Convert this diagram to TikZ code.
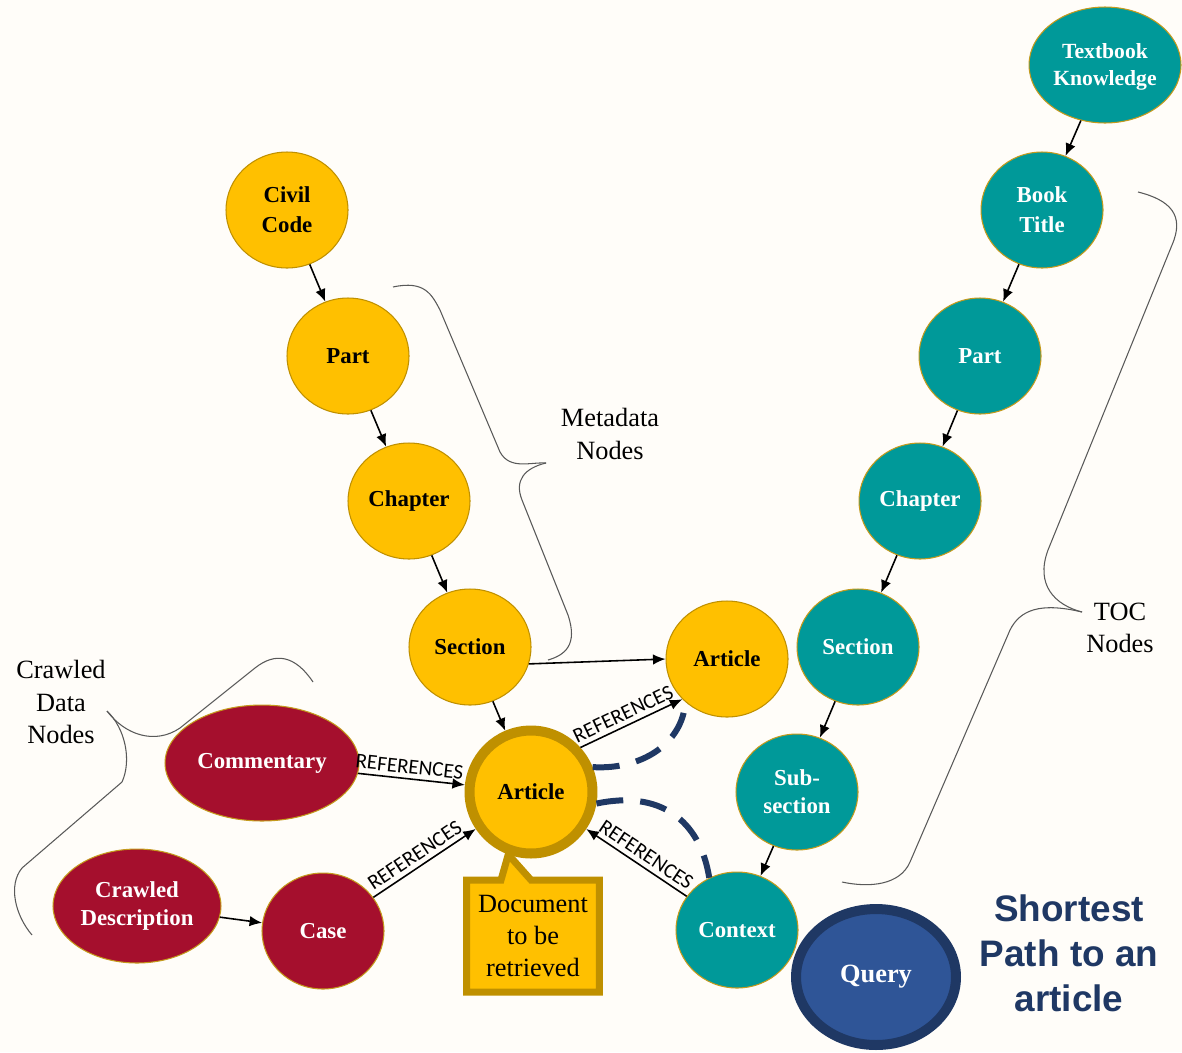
\documentclass[tikz,border=0pt]{standalone}
\usepackage{fontspec}
\setmainfont{Liberation Serif}
\newfontfamily\reffont{Carlito}
\newfontfamily\titlefont{Liberation Sans}
\usetikzlibrary{arrows.meta,shapes.geometric,shapes.callouts}

\definecolor{gold}{HTML}{FFC000}
\definecolor{golddark}{HTML}{BF9000}
\definecolor{tocteal}{HTML}{009999}
\definecolor{crawlred}{HTML}{A50F2D}
\definecolor{qblue}{HTML}{2F5597}
\definecolor{navy}{HTML}{1F3864}
\definecolor{rim}{HTML}{C49A1C}
\definecolor{paper}{HTML}{FFFDF9}

\tikzset{
  meta/.style={ellipse, fill=gold, draw=golddark, line width=0.6pt,
    minimum width=2.44cm, minimum height=2.32cm, inner sep=0pt,
    align=center, font=\bfseries\fontsize{13}{17}\selectfont},
  toc/.style={meta, fill=tocteal, draw=rim, text=white},
  crawl/.style={meta, fill=crawlred, draw=rim, text=white},
  link/.style={-{Latex[length=0.25cm,width=0.21cm]}, line width=0.9pt},
  reflabel/.style={sloped, above, inner sep=2.5pt, pos=0.47,
    font=\reffont\fontsize{12}{12}\selectfont},
  brace/.style={draw=black!65, line width=0.6pt},
  shortpath/.style={draw=navy, line width=0.12cm, dash pattern=on 0.54cm off 0.34cm},
  caption/.style={align=center, font=\fontsize{15}{18.4}\selectfont}
}

\begin{document}
\begin{tikzpicture}[x=0.02cm, y=-0.02cm]
\fill[paper] (0,0) rectangle (1182,1052);
\useasboundingbox (0,0) rectangle (1182,1052);

% metadata chain
\node[meta] (civil) at (287,210) {Civil\\Code};
\node[meta] (part1) at (348,356) {Part};
\node[meta] (chap1) at (409,501) {Chapter};
\node[meta] (sec1) at (470,647) {Section};
\node[meta] (art2) at (727,659) {Article};
\node[meta, line width=0.2cm, minimum width=2.46cm, minimum height=2.46cm] (art1) at (531,792) {Article};

% toc chain
\node[toc, minimum width=3.04cm, font=\bfseries\fontsize{12.3}{15.3}\selectfont] (tbk) at (1105,65) {\strut Textbook\\Knowledge};
\node[toc] (book) at (1042,210) {Book\\Title};
\node[toc] (part2) at (980,356) {Part};
\node[toc] (chap2) at (920,501) {Chapter};
\node[toc] (sec2) at (858,647) {Section};
\node[toc, font=\bfseries\fontsize{13}{16}\selectfont] (sub) at (797,792) {Sub-\\section};
\node[toc] (ctx) at (737,930) {Context};

% crawled data
\node[crawl, minimum width=3.88cm] (comm) at (262,763) {Commentary};
\node[crawl, minimum width=3.36cm, minimum height=2.28cm, font=\bfseries\fontsize{13}{16}\selectfont] (desc) at (137,906) {Crawled\\Description};
\node[crawl] (case) at (323,931) {Case};

% query and callout
\node[ellipse, fill=qblue, draw=navy, line width=0.2cm, minimum width=3.2cm,
  minimum height=2.72cm, text=white, font=\bfseries\fontsize{15}{18}\selectfont] (query) at (876,977) {Query};
\node[rectangle callout, fill=gold, draw=golddark, line width=0.14cm,
  minimum width=2.66cm, minimum height=2.24cm, callout absolute pointer={(art1.250)},
  callout pointer width=0.6cm, caption] (doc) at (533,936) {Document\\to be\\retrieved};

% group labels
\node[caption] (metalbl) at (610,434) {Metadata\\Nodes};
\node[caption] (toclbl) at (1120,628) {TOC\\Nodes};
\node[caption] (crawllbl) at (61,702) {Crawled\\Data\\Nodes};
\node[align=center, text=navy, font=\titlefont\bfseries\fontsize{21}{25.5}\selectfont] (title) at (1069,953) {Shortest\\Path to an\\article};

% hierarchy arrows
\draw[link] (civil) -- (part1);
\draw[link] (part1) -- (chap1);
\draw[link] (chap1) -- (sec1);
\draw[link] (sec1) -- (art1);
\draw[link] (sec1.-16) -- (art2.west);
\draw[link] (tbk) -- (book);
\draw[link] (book) -- (part2);
\draw[link] (part2) -- (chap2);
\draw[link] (chap2) -- (sec2);
\draw[link] (sec2) -- (sub);
\draw[link] (sub) -- (ctx);
\draw[link] (desc) -- (case);

% references
\draw[link] (comm) -- node[reflabel] {REFERENCES} (art1);
\draw[link] (case) -- node[reflabel] {REFERENCES} (art1);
\draw[link] (ctx) -- node[reflabel] {REFERENCES} (art1);
\draw[link] (art1.42) -- node[reflabel] {REFERENCES} (art2.222);

% shortest path
\draw[shortpath] (art1.22) .. controls (640,770) and (682,745) .. (art2.226);
\draw[shortpath] (art1.-10) .. controls (660,790) and (700,820) .. (ctx.118);

% braces
\draw[brace] (393,287) .. controls (425,280) and (432,295) .. (440,310) -- (500,452)
  .. controls (510,470) and (530,462) .. (546,463);
\draw[brace] (546,463) .. controls (525,468) and (514,480) .. (522,500) -- (568,615)
  .. controls (578,645) and (565,655) .. (548,660);
\draw[brace] (1138,192) .. controls (1170,200) and (1185,215) .. (1172,245) -- (1048,550)
  .. controls (1035,585) and (1055,605) .. (1082,612);
\draw[brace] (1082,612) .. controls (1040,602) and (1020,610) .. (1010,630) -- (910,862)
  .. controls (900,885) and (870,888) .. (842,882);
\draw[brace] (313,682) .. controls (295,655) and (275,652) .. (255,668) -- (180,728)
  .. controls (155,745) and (125,735) .. (107,711);
\draw[brace] (107,711) .. controls (125,728) and (132,760) .. (122,782) -- (22,868)
  .. controls (8,885) and (15,915) .. (32,935);
\end{tikzpicture}
\end{document}
